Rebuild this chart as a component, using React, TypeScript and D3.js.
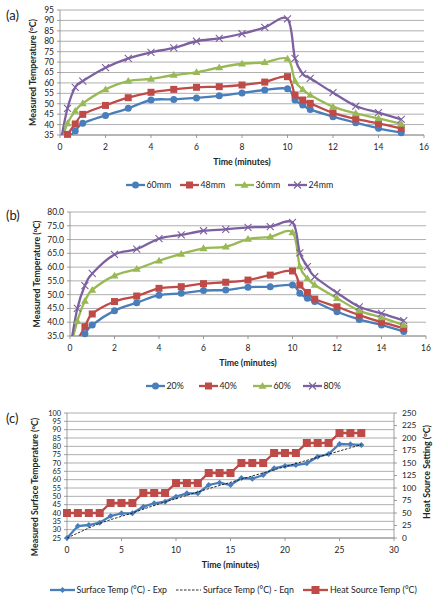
import React from 'react';
import * as d3 from 'd3';

// ---------- DATA ----------
const timesAB = [0, 0.33, 0.67, 1, 2, 3, 4, 5, 6, 7, 8, 9, 10, 10.33, 10.67, 11, 12, 13, 14, 15];

const a60mm = [30, 33.5, 36.9, 40.6, 44.4, 47.8, 51.8, 52.1, 52.8, 53.8, 55.2, 56.6, 57.2, 51.8, 49.4, 47.3, 43.8, 40.9, 38.2, 36.1];
const a48mm = [30, 35.3, 40.3, 44.9, 49.2, 52.9, 55.5, 56.9, 57.9, 58.2, 59.0, 60.4, 63.0, 54.2, 51.8, 50.2, 45.6, 42.7, 40.6, 38.2];
const a36mm = [30, 40.6, 46.5, 50.2, 56.9, 60.9, 61.9, 63.8, 65.1, 67.4, 69.2, 69.9, 71.6, 60.9, 56.9, 54.2, 48.6, 45.4, 43.0, 40.3];
const a24mm = [30, 47.8, 57.9, 60.9, 67.3, 71.8, 74.7, 76.8, 80.0, 81.4, 83.6, 86.7, 90.7, 71.8, 64.3, 62.2, 55.3, 48.9, 45.7, 42.5];

const b20 = [30, 32.0, 35.8, 39.0, 44.2, 47.1, 49.8, 50.5, 51.5, 51.7, 52.7, 52.9, 53.5, 50.5, 48.7, 47.5, 43.8, 41.0, 39.0, 36.6];
const b40 = [30, 33.5, 38.4, 43.0, 47.5, 49.5, 52.3, 52.9, 54.0, 54.5, 55.3, 57.1, 58.6, 53.5, 50.8, 48.4, 45.6, 42.6, 40.0, 37.8];
const b60 = [30, 40.4, 47.7, 51.7, 56.9, 59.3, 62.3, 64.8, 66.8, 67.4, 70.2, 71.0, 72.6, 60.2, 55.9, 53.5, 48.7, 44.2, 41.7, 39.0];
const b80 = [30, 45.0, 53.3, 57.7, 64.6, 66.5, 70.3, 71.7, 73.2, 73.7, 74.4, 74.7, 76.2, 65.2, 60.2, 56.5, 50.7, 45.6, 43.2, 40.6];

const timesC = [0, 1, 2, 3, 4, 5, 6, 7, 8, 9, 10, 11, 12, 13, 14, 15, 16, 17, 18, 19, 20, 21, 22, 23, 24, 25, 26, 27];
const cSurfaceExp = [25, 32.2, 32.8, 34.2, 38.2, 39.8, 39.8, 43.8, 45.8, 46.8, 49.8, 51.8, 51.8, 56.8, 58.2, 56.8, 61, 60.6, 62.8, 66.8, 68.2, 68.8, 69.8, 73.8, 75.4, 81.4, 81.2, 80.8];
const cSurfaceEqn = [25, 28, 31, 33.8, 36, 38, 40, 42.3, 44.5, 46.6, 48.6, 50.6, 52.6, 54.6, 56.5, 58.4, 60.3, 62.2, 64.1, 65.9, 67.8, 69.7, 71.6, 73.5, 75.3, 77.2, 79.1, 81];
const cHeatSource = [50, 50, 50, 50, 70, 70, 70, 90, 90, 90, 110, 110, 110, 130, 130, 130, 150, 150, 150, 170, 170, 170, 190, 190, 190, 210, 210, 210];

const namesA = ['60mm', '48mm', '36mm', '24mm'];
const namesB = ['20%', '40%', '60%', '80%'];
const namesC = ['Surface Temp (°C) - Exp', 'Surface Temp (°C) - Eqn', 'Heat Source Temp (°C)'];

const xTicksAB = [0, 2, 4, 6, 8, 10, 12, 14, 16];
const yTicksA = [35, 40, 45, 50, 55, 60, 65, 70, 75, 80, 85, 90, 95];
const yTicksB = [35, 40, 45, 50, 55, 60, 65, 70, 75, 80];
const xTicksC = [0, 5, 10, 15, 20, 25, 30];
const yTicksCLeft = [25, 30, 35, 40, 45, 50, 55, 60, 65, 70, 75, 80, 85, 90, 95, 100];
const yTicksCRight = [0, 25, 50, 75, 100, 125, 150, 175, 200, 225, 250];

// ---------- STYLE ----------
const FONT = 'Lato, "Open Sans", sans-serif';
const BLUE = '#4A7EBB';
const RED = '#BE4B48';
const GREEN = '#98B954';
const PURPLE = '#7D60A0';
const GRID = '#9a9a9a';
const AXIS = '#868686';
const TXT = '#222';
const colorsABCD = [BLUE, RED, GREEN, PURPLE];
const markersABCD = ['circle', 'square', 'triangle', 'x'];

function Marker({ type, x, y, color, s = 3.5 }: any) {
  if (type === 'circle') return <circle cx={x} cy={y} r={s} fill={color} />;
  if (type === 'square') return <rect x={x - s} y={y - s} width={2 * s} height={2 * s} fill={color} />;
  if (type === 'triangle')
    return <path d={`M${x},${y - s - 0.5}L${x + s + 0.5},${y + s * 0.8}L${x - s - 0.5},${y + s * 0.8}Z`} fill={color} />;
  if (type === 'diamond')
    return <path d={`M${x},${y - s}L${x + s},${y}L${x},${y + s}L${x - s},${y}Z`} fill={color} />;
  if (type === 'x')
    return (
      <path d={`M${x - s},${y - s}L${x + s},${y + s}M${x - s},${y + s}L${x + s},${y - s}`} stroke={color} strokeWidth={1.1} fill="none" />
    );
  return null;
}

function YTitle({ x, y, text }: any) {
  return (
    <text transform={`translate(${x},${y}) rotate(-90)`} textAnchor="middle" fontFamily={FONT} fontWeight="bold" fontSize={8.8} fill={TXT}>
      {text} (<tspan fontSize={6} dy={-3}>o</tspan><tspan dy={3}>C)</tspan>
    </text>
  );
}

function LinePanel({ id, xr, yr, xDomain, yDomain, xTicks, yTicks, yFmt, series, names, legendXs, legendY, titleY, label, labelY, yTitleX }: any) {
  const x = d3.scaleLinear().domain(xDomain).range(xr);
  const y = d3.scaleLinear().domain(yDomain).range(yr);
  const line = d3
    .line<[number, number]>()
    .x((d) => x(d[0]))
    .y((d) => y(d[1]))
    .curve(d3.curveCardinal.tension(0));
  const fmt = d3.format(yFmt);
  const midX = (xr[0] + xr[1]) / 2;
  return (
    <g>
      <defs>
        <clipPath id={id}>
          <rect x={xr[0]} y={yr[1] - 2} width={xr[1] - xr[0]} height={yr[0] - yr[1] + 2} />
        </clipPath>
      </defs>
      {yTicks.map((t: number) => (
        <line key={'g' + t} x1={xr[0]} x2={xr[1]} y1={y(t)} y2={y(t)} stroke={GRID} strokeWidth={0.8} />
      ))}
      <line x1={xr[0]} x2={xr[0]} y1={yr[0]} y2={yr[1]} stroke={AXIS} strokeWidth={0.8} />
      <line x1={xr[0]} x2={xr[1]} y1={yr[0]} y2={yr[0]} stroke={AXIS} strokeWidth={0.8} />
      {yTicks.map((t: number) => (
        <g key={'y' + t}>
          <line x1={xr[0] - 3} x2={xr[0]} y1={y(t)} y2={y(t)} stroke={AXIS} strokeWidth={0.8} />
          <text x={xr[0] - 6} y={y(t)} dy="0.35em" textAnchor="end" fontFamily={FONT} fontSize={8.5} fill={TXT}>
            {fmt(t)}
          </text>
        </g>
      ))}
      {xTicks.map((t: number) => (
        <g key={'x' + t}>
          <line x1={x(t)} x2={x(t)} y1={yr[0]} y2={yr[0] + 3} stroke={AXIS} strokeWidth={0.8} />
          <text x={x(t)} y={yr[0] + 15} textAnchor="middle" fontFamily={FONT} fontSize={8.5} fill={TXT}>
            {t}
          </text>
        </g>
      ))}
      <g clipPath={`url(#${id})`}>
        {series.map((s: number[], i: number) => (
          <path key={'l' + i} d={line(timesAB.map((t, j) => [t, s[j]] as [number, number])) || ''} fill="none" stroke={colorsABCD[i]} strokeWidth={2.3} />
        ))}
      </g>
      {series.map((s: number[], i: number) => (
        <g key={'m' + i}>
          {timesAB.map((t, j) =>
            s[j] >= yDomain[0] - 0.5 ? <Marker key={j} type={markersABCD[i]} x={x(t)} y={y(s[j])} color={colorsABCD[i]} /> : null
          )}
        </g>
      ))}
      <text x={midX} y={titleY} textAnchor="middle" fontFamily={FONT} fontWeight="bold" fontSize={8.8} fill={TXT}>
        Time (minutes)
      </text>
      <YTitle x={yTitleX} y={(yr[0] + yr[1]) / 2} text="Measured Temperature" />
      <text x={6} y={labelY} fontFamily={FONT} fontSize={13} fill={TXT}>
        {label}
      </text>
      {names.map((n: string, i: number) => (
        <g key={'lg' + i}>
          <line x1={legendXs[i]} x2={legendXs[i] + 19} y1={legendY} y2={legendY} stroke={colorsABCD[i]} strokeWidth={2.3} />
          <Marker type={markersABCD[i]} x={legendXs[i] + 9.5} y={legendY} color={colorsABCD[i]} />
          <text x={legendXs[i] + 20.5} y={legendY} dy="0.35em" fontFamily={FONT} fontSize={8.8} fill={TXT}>
            {n}
          </text>
        </g>
      ))}
    </g>
  );
}

function PanelC() {
  const xr = [67, 394];
  const yr = [538, 413];
  const x = d3.scaleLinear().domain([0, 30]).range(xr);
  const yL = d3.scaleLinear().domain([25, 100]).range(yr);
  const yR = d3.scaleLinear().domain([0, 250]).range(yr);
  const lineL = d3.line<number>().x((_, i) => x(timesC[i])).y((d) => yL(d));
  const lineR = d3.line<number>().x((_, i) => x(timesC[i])).y((d) => yR(d));
  const legendY = 590;
  const tickFs = 7.4;
  return (
    <g>
      {yTicksCLeft.map((t) => (
        <line key={'g' + t} x1={xr[0]} x2={xr[1]} y1={yL(t)} y2={yL(t)} stroke={GRID} strokeWidth={0.8} />
      ))}
      <line x1={xr[0]} x2={xr[0]} y1={yr[0]} y2={yr[1]} stroke={AXIS} strokeWidth={0.8} />
      <line x1={xr[1]} x2={xr[1]} y1={yr[0]} y2={yr[1]} stroke={AXIS} strokeWidth={0.8} />
      <line x1={xr[0]} x2={xr[1]} y1={yr[0]} y2={yr[0]} stroke={AXIS} strokeWidth={0.8} />
      {yTicksCLeft.map((t) => (
        <g key={'yl' + t}>
          <line x1={xr[0] - 3} x2={xr[0]} y1={yL(t)} y2={yL(t)} stroke={AXIS} strokeWidth={0.8} />
          <text x={xr[0] - 6} y={yL(t)} dy="0.35em" textAnchor="end" fontFamily={FONT} fontSize={tickFs} fill={TXT}>
            {t}
          </text>
        </g>
      ))}
      {yTicksCRight.map((t) => (
        <g key={'yr' + t}>
          <line x1={xr[1]} x2={xr[1] + 3} y1={yR(t)} y2={yR(t)} stroke={AXIS} strokeWidth={0.8} />
          <text x={xr[1] + 8} y={yR(t)} dy="0.35em" textAnchor="start" fontFamily={FONT} fontSize={8.3} fill={TXT}>
            {t}
          </text>
        </g>
      ))}
      {xTicksC.map((t) => (
        <g key={'x' + t}>
          <line x1={x(t)} x2={x(t)} y1={yr[0]} y2={yr[0] + 3} stroke={AXIS} strokeWidth={0.8} />
          <text x={x(t)} y={yr[0] + 15} textAnchor="middle" fontFamily={FONT} fontSize={8.5} fill={TXT}>
            {t}
          </text>
        </g>
      ))}
      <path d={lineR(cHeatSource) || ''} fill="none" stroke={RED} strokeWidth={2.3} />
      {cHeatSource.map((v, i) => (
        <Marker key={'h' + i} type="square" x={x(timesC[i])} y={yR(v)} color={RED} s={4} />
      ))}
      <path d={lineL(cSurfaceExp) || ''} fill="none" stroke={BLUE} strokeWidth={2.3} />
      {cSurfaceExp.map((v, i) => (
        <Marker key={'e' + i} type="diamond" x={x(timesC[i])} y={yL(v)} color={BLUE} s={3} />
      ))}
      <path d={lineL(cSurfaceEqn) || ''} fill="none" stroke="#111" strokeWidth={0.9} strokeDasharray="2.5,1.5" />
      <text x={(xr[0] + xr[1]) / 2} y={568} textAnchor="middle" fontFamily={FONT} fontWeight="bold" fontSize={8.8} fill={TXT}>
        Time (minutes)
      </text>
      <YTitle x={38} y={487} text="Measured Surface Temperature" />
      <text transform={`translate(430,472) rotate(-90)`} textAnchor="middle" fontFamily={FONT} fontWeight="bold" fontSize={8.8} fill={TXT}>
        Heat Source Setting (<tspan fontSize={6} dy={-3}>o</tspan><tspan dy={3}>C)</tspan>
      </text>
      <text x={6} y={423} fontFamily={FONT} fontSize={13} fill={TXT}>
        (c)
      </text>
      {/* legend */}
      <line x1={50} x2={75} y1={legendY} y2={legendY} stroke={BLUE} strokeWidth={2.3} />
      <Marker type="diamond" x={62.5} y={legendY} color={BLUE} s={3} />
      <text x={76.5} y={legendY} dy="0.35em" fontFamily={FONT} fontSize={8.8} fill={TXT}>{namesC[0]}</text>
      <line x1={176} x2={201} y1={legendY} y2={legendY} stroke="#111" strokeWidth={0.9} strokeDasharray="2.5,1.5" />
      <text x={203} y={legendY} dy="0.35em" fontFamily={FONT} fontSize={8.8} fill={TXT}>{namesC[1]}</text>
      <line x1={303} x2={328} y1={legendY} y2={legendY} stroke={RED} strokeWidth={2.3} />
      <Marker type="square" x={315.5} y={legendY} color={RED} s={4} />
      <text x={330} y={legendY} dy="0.35em" fontFamily={FONT} fontSize={8.8} fill={TXT}>{namesC[2]}</text>
    </g>
  );
}

export default function App() {
  return (
    <svg width={439} height={601} style={{ position: 'absolute', left: 0, top: 0, background: '#fff' }}>
      <rect width={439} height={601} fill="#fff" />
      <LinePanel
        id="clipA"
        xr={[60, 424]}
        yr={[135, 10]}
        xDomain={[0, 16]}
        yDomain={[35, 95]}
        xTicks={xTicksAB}
        yTicks={yTicksA}
        yFmt="d"
        series={[a60mm, a48mm, a36mm, a24mm]}
        names={namesA}
        legendXs={[126, 180, 235, 288]}
        legendY={185}
        titleY={165}
        label="(a)"
        labelY={20}
        yTitleX={36}
      />
      <LinePanel
        id="clipB"
        xr={[70, 426]}
        yr={[336, 212]}
        xDomain={[0, 16]}
        yDomain={[35, 80]}
        xTicks={xTicksAB}
        yTicks={yTicksB}
        yFmt=".1f"
        series={[b20, b40, b60, b80]}
        names={namesB}
        legendXs={[146, 199, 253, 303]}
        legendY={386}
        titleY={366}
        label="(b)"
        labelY={220}
        yTitleX={40}
      />
      <PanelC />
    </svg>
  );
}
